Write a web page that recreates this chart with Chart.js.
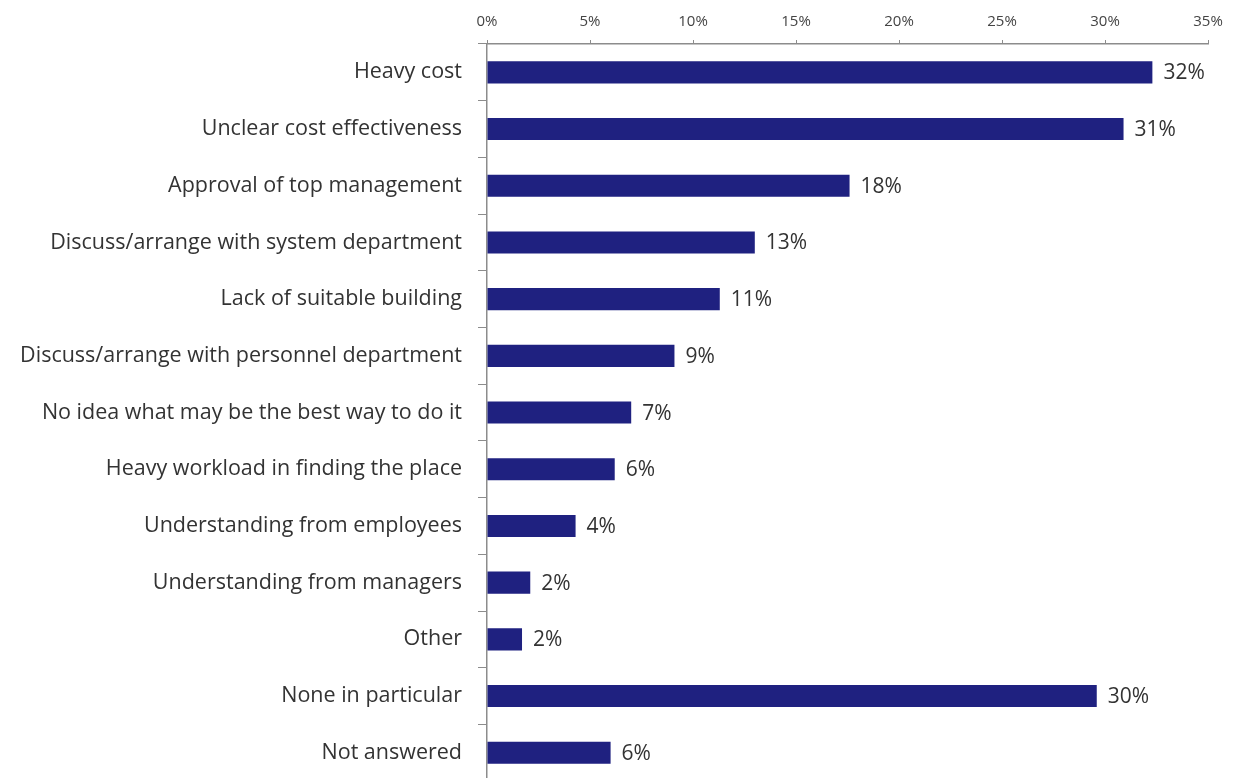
<!DOCTYPE html>
<html>
<head>
<meta charset="utf-8">
<script src="https://cdn.jsdelivr.net/npm/chart.js@4/dist/chart.umd.min.js"></script>
<style>
  html, body { margin: 0; padding: 0; background: #fff; overflow: hidden; }
  #wrap { width: 1235px; height: 778px; overflow: hidden; }
</style>
</head>
<body>
<div id="wrap"><canvas id="barChart" width="1235" height="810"></canvas></div>
<script>
// 回答項目と割合（%）
const categories = [
    'Heavy cost',
    'Unclear cost effectiveness',
    'Approval of top management',
    'Discuss/arrange with system department',
    'Lack of suitable building',
    'Discuss/arrange with personnel department',
    'No idea what may be the best way to do it',
    'Heavy workload in finding the place',
    'Understanding from employees',
    'Understanding from managers',
    'Other',
    'None in particular',
    'Not answered'
];
const percentValues = [32.3, 30.9, 17.6, 13.0, 11.3, 9.1, 7.0, 6.2, 4.3, 2.1, 1.7, 29.6, 6.0];
const tickValues = [0, 5, 10, 15, 20, 25, 30, 35];

const labelFont = '"Open Sans", "DejaVu Sans", sans-serif';

// バーの右端に値ラベルを描く
const barValueLabels = {
    id: 'barValueLabels',
    afterDatasetsDraw(chart) {
        const ctx = chart.ctx;
        const meta = chart.getDatasetMeta(0);
        ctx.save();
        ctx.font = '21px ' + labelFont;
        ctx.fillStyle = '#333';
        ctx.textAlign = 'left';
        ctx.textBaseline = 'middle';
        meta.data.forEach((bar, i) => {
            ctx.fillText(Math.round(percentValues[i]) + '%', bar.x + 11, bar.y + 1);
        });
        ctx.restore();
    }
};

const ctx = document.getElementById('barChart').getContext('2d');
new Chart(ctx, {
    type: 'bar',
    data: {
        labels: categories,
        datasets: [{
            data: percentValues,
            backgroundColor: '#1f2180',
            borderWidth: 0,
            barPercentage: 0.39,
            categoryPercentage: 1.0
        }]
    },
    plugins: [barValueLabels],
    options: {
        indexAxis: 'y',
        responsive: false,
        animation: false,
        layout: { padding: { left: 0, right: 27, top: 0, bottom: 0 } },
        plugins: {
            legend: { display: false },
            tooltip: { enabled: false }
        },
        scales: {
            x: {
                position: 'top',
                min: 0,
                max: 35,
                afterBuildTicks(scale) {
                    scale.ticks = tickValues.map(v => ({ value: v }));
                },
                afterFit(scale) { scale.height = 44; },
                grid: {
                    drawOnChartArea: false,
                    drawTicks: true,
                    tickLength: 4,
                    color: '#8c8c8c'
                },
                border: { color: '#8c8c8c', width: 1.5 },
                ticks: {
                    padding: 9,
                    color: '#444',
                    font: { family: labelFont, size: 15 },
                    callback: v => v + '%'
                }
            },
            y: {
                offset: true,
                afterFit(scale) { scale.width = 487; },
                grid: {
                    offset: true,
                    drawOnChartArea: false,
                    drawTicks: true,
                    tickLength: 9,
                    color: '#8c8c8c'
                },
                border: { color: '#8c8c8c', width: 1.5 },
                ticks: {
                    padding: 16,
                    color: '#333',
                    font: { family: labelFont, size: 21.5 }
                }
            }
        }
    }
});
</script>
</body>
</html>
